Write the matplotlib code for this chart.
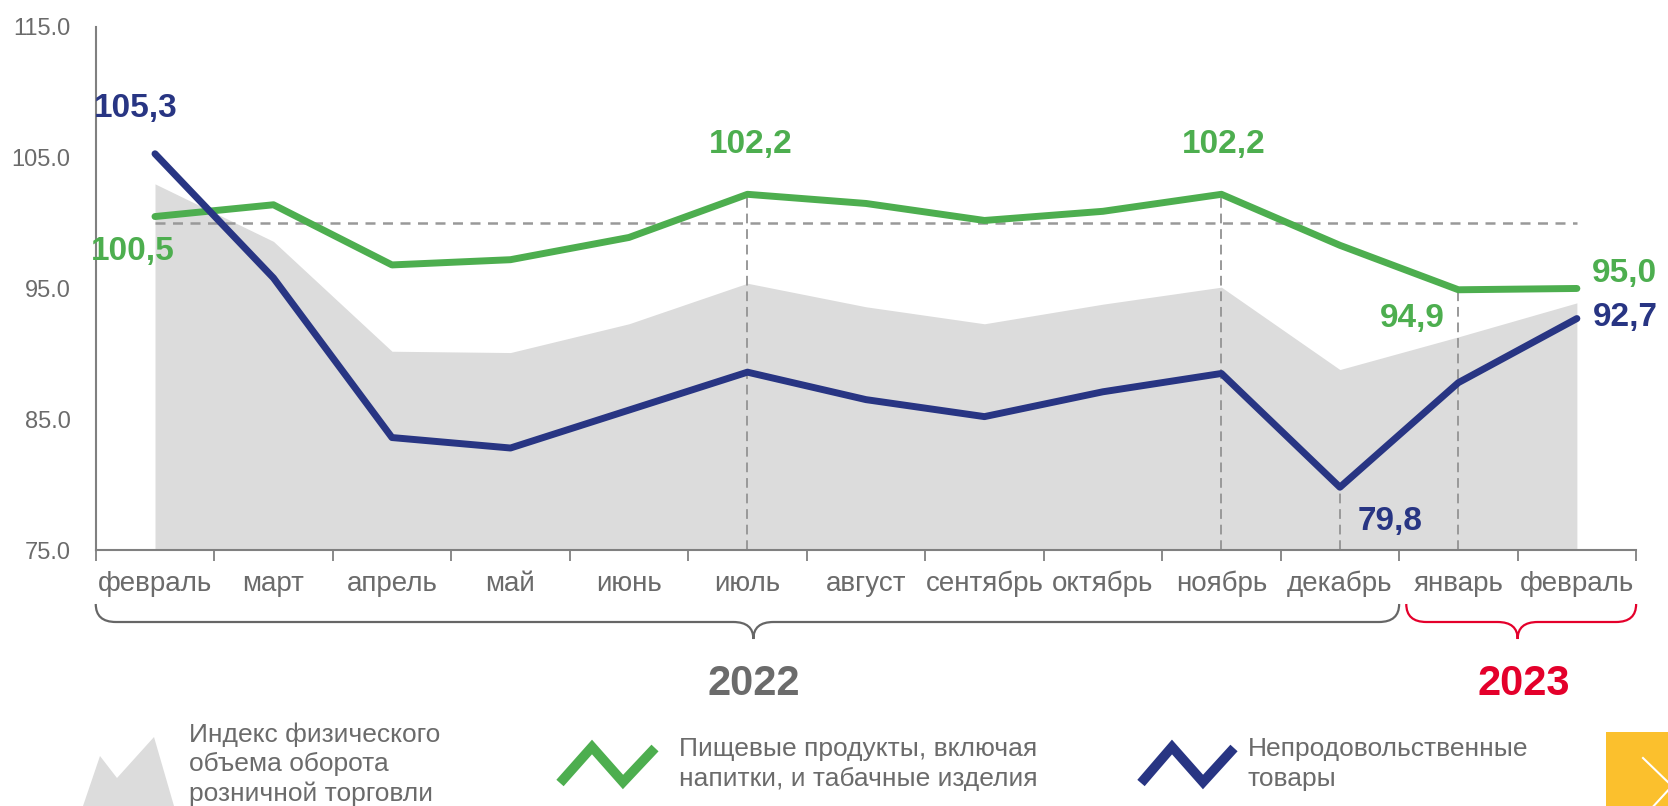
import numpy as np
import matplotlib
matplotlib.use('Agg')
from matplotlib import pyplot as plt
from matplotlib.path import Path
from matplotlib.patches import PathPatch, Polygon, Rectangle
from matplotlib import transforms

plt.rcParams['font.family'] = ['Liberation Sans', 'DejaVu Sans']

months = ['февраль', 'март', 'апрель', 'май', 'июнь', 'июль', 'август',
          'сентябрь', 'октябрь', 'ноябрь', 'декабрь', 'январь', 'февраль']
total = [103.0, 98.6, 90.2, 90.1, 92.3, 95.4, 93.6, 92.3, 93.8, 95.1, 88.8, 91.3, 93.9]
food = [100.5, 101.4, 96.8, 97.2, 98.9, 102.2, 101.5, 100.2, 100.9, 102.2, 98.3, 94.9, 95.0]
nonfood = [105.3, 95.8, 83.6, 82.8, 85.7, 88.6, 86.5, 85.2, 87.1, 88.5, 79.8, 87.8, 92.7]
years = ['2022', '2023']
legend_labels = ['Индекс физического\nобъема оборота\nрозничной торговли',
                 'Пищевые продукты, включая\nнапитки, и табачные изделия',
                 'Непродовольственные\nтовары']

GREEN = '#4dae4f'
NAVY = '#283583'
FILL = '#dcdcdc'
TXT = '#6b6b6b'
RED = '#e4002b'
DASH = '#999999'

x = np.arange(len(months))

fig = plt.figure(figsize=(16.68, 8.06), dpi=100)
ax = fig.add_axes([0.0574, 0.3176, 0.9235, 0.649])

ax.fill_between(x, 75, total, color=FILL, lw=0, zorder=1)
ax.plot([x[0], x[-1]], [100, 100], color=DASH, lw=1.8, ls=(0, (4, 3)), zorder=2)
# vertical guides: july, november -> food; december -> nonfood; january -> food
for i, top in [(5, food[5]), (9, food[9]), (10, nonfood[10]), (11, food[11])]:
    ax.plot([x[i], x[i]], [75, top], color=DASH, lw=1.4, ls=(0, (5, 3)), zorder=2)

ax.plot(x, food, color=GREEN, lw=5, solid_capstyle='round', solid_joinstyle='round', zorder=3)
ax.plot(x, nonfood, color=NAVY, lw=5, solid_capstyle='round', solid_joinstyle='round', zorder=4)

lab = dict(fontsize=24, fontweight='bold', textcoords='offset pixels', ha='center', va='center')
ax.annotate('105,3', (x[0], nonfood[0]), xytext=(-19, 45), color=NAVY, **lab)
ax.annotate('100,5', (x[0], food[0]), xytext=(-22, -35), color=GREEN, **lab)
ax.annotate('102,2', (x[5], food[5]), xytext=(3, 50), color=GREEN, **lab)
ax.annotate('102,2', (x[9], food[9]), xytext=(2, 50), color=GREEN, **lab)
ax.annotate('94,9', (x[11], food[11]), xytext=(-46, -29), color=GREEN, **lab)
ax.annotate('95,0', (x[12], food[12]), xytext=(48, 15), color=GREEN, **lab)
ax.annotate('92,7', (x[12], nonfood[12]), xytext=(48, 1), color=NAVY, **lab)
ax.annotate('79,8', (x[10], nonfood[10]), xytext=(50, -34), color=NAVY, **lab)

ax.set_xlim(-0.5, len(months) - 0.5)
ax.set_ylim(75, 115)
ax.set_yticks([75, 85, 95, 105, 115])
ax.set_yticklabels(['%.1f' % v for v in [75, 85, 95, 105, 115]])
ax.set_xticks(x)
ax.set_xticklabels(months)
ax.set_xticks(np.arange(-0.5, len(months)), minor=True)
ax.tick_params(axis='x', which='major', length=0, pad=15, labelsize=20, labelcolor=TXT)
ax.tick_params(axis='x', which='minor', length=8, width=1.3, color='#808080', direction='out')
ax.tick_params(axis='y', length=0, pad=18, labelsize=17, labelcolor=TXT)
for s in ['top', 'right']:
    ax.spines[s].set_visible(False)
for s in ['left', 'bottom']:
    ax.spines[s].set_color('#808080')
    ax.spines[s].set_linewidth(1.5)

# overlay in pixel coordinates for braces and legend
ov = fig.add_axes([0, 0, 1, 1])
ov.set_xlim(0, 1668)
ov.set_ylim(806, 0)
ov.axis('off')
bt = transforms.blended_transform_factory(ax.transData, ov.transData)


def brace(x0, x1, xc, ytop, ymid, ybot, r, color):
    verts = [(x0, ytop), (x0, ymid), (x0 + r, ymid), (xc - r, ymid),
             (xc, ymid), (xc, ybot), (xc, ymid), (xc + r, ymid),
             (x1 - r, ymid), (x1, ymid), (x1, ytop)]
    codes = [Path.MOVETO, Path.CURVE3, Path.CURVE3, Path.LINETO,
             Path.CURVE3, Path.CURVE3, Path.CURVE3, Path.CURVE3,
             Path.LINETO, Path.CURVE3, Path.CURVE3]
    ov.add_patch(PathPatch(Path(verts, codes), fc='none', ec=color, lw=1.6,
                           transform=bt, clip_on=False))


brace(-0.5, 10.5, 5.05, 604, 622, 639, 0.17, '#666666')
brace(10.56, 12.5, 11.5, 604, 622, 639, 0.17, RED)
ov.text(5.05, 684, years[0], transform=bt, ha='center', va='center',
        fontsize=30, fontweight='bold', color=TXT)
ov.text(11.55, 684, years[1], transform=bt, ha='center', va='center',
        fontsize=30, fontweight='bold', color=RED)

# legend
ov.add_patch(Polygon([(83, 806), (100, 756), (117, 778), (154, 737), (174, 806)],
                     closed=True, fc=FILL, ec='none'))
ov.text(189, 764, legend_labels[0], fontsize=19, color=TXT, va='center', ha='left',
        linespacing=1.28)
ov.plot([560, 592, 623, 655], [783, 747, 782, 748], color=GREEN, lw=7,
        solid_joinstyle='miter', solid_capstyle='butt')
ov.text(679, 764, legend_labels[1], fontsize=19, color=TXT, va='center', ha='left',
        linespacing=1.28)
ov.plot([1141, 1172, 1203, 1234], [783, 747, 782, 748], color=NAVY, lw=7,
        solid_joinstyle='miter', solid_capstyle='butt')
ov.text(1248, 764, legend_labels[2], fontsize=19, color=TXT, va='center', ha='left',
        linespacing=1.28)

# yellow navigation button in the corner
ov.add_patch(Rectangle((1606, 732), 62, 74, fc='#fbc02d', ec='none'))
ov.plot([1643, 1672, 1650], [758, 786, 810], color='white', lw=1.5, clip_on=True)

fig.savefig('out.png', dpi=100)
